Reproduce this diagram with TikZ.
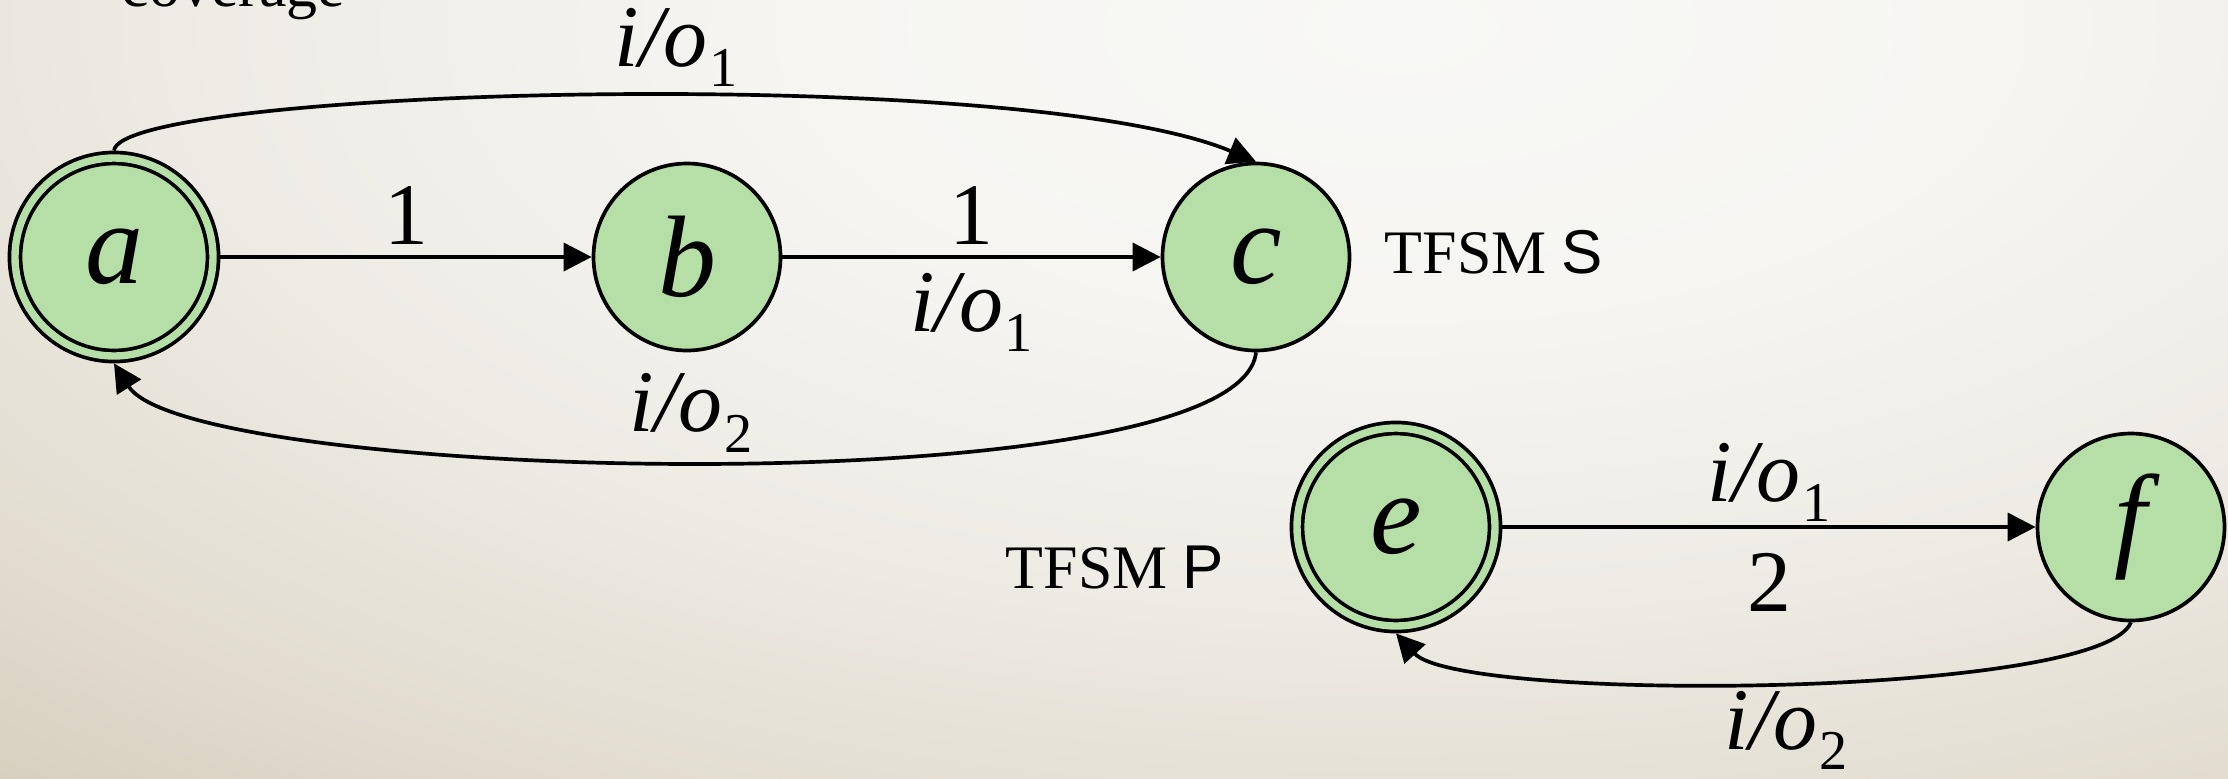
\documentclass[tikz,border=0pt]{standalone}
\usepackage{fontspec}
\setmainfont{Liberation Serif}
\setsansfont{Liberation Sans}
\usetikzlibrary{arrows.meta}
\definecolor{stategreen}{RGB}{182,223,167}
\definecolor{bgin}{RGB}{248,248,246}
\definecolor{bgmida}{RGB}{246,245,242}
\definecolor{bgmidb}{RGB}{238,236,229}
\definecolor{bgmidc}{RGB}{226,220,208}
\definecolor{bgout}{RGB}{208,198,178}
\pgfdeclareradialshading{vignette}{\pgfpointorigin}{color(0bp)=(bgin); color(6.25bp)=(bgmida); color(12.5bp)=(bgmidb); color(18.75bp)=(bgmidc); color(25bp)=(bgout); color(50bp)=(bgout)}
\newcommand{\io}[1]{\textit{i/o}\kern0.5pt\raisebox{-0.23em}{\fontsize{16}{18}\selectfont #1}}
\tikzset{
	fsmstate/.style={circle,draw,fill=stategreen,line width=1.05pt,minimum size=1.87cm,inner sep=0pt,font=\fontsize{33}{36}\selectfont\itshape},
	fsmaccept/.style={fsmstate,minimum size=1.98cm,double=stategreen,double distance=2.1pt,outer sep=2.1pt},
	lbl/.style={font=\fontsize{25}{28}\selectfont,inner sep=2pt},
	txt/.style={font=\fontsize{17.6}{20}\selectfont,inner sep=0pt,anchor=base west}
}
\begin{document}
\begin{tikzpicture}[>={Triangle[length=8pt,width=8pt]},line join=round,line width=1.05pt]
	\useasboundingbox (0,0) rectangle (22.28,7.78);
	\begin{scope}
		\clip (0,0) rectangle (22.28,7.78);
		\shade[shading=vignette] (14,7.5) ellipse (23.7 and 11.2);
	\end{scope}
	% states
	\node[fsmaccept] (a) at (1.14,5.21) {a};
	\node[fsmstate] (b) at (6.87,5.21) {b};
	\node[fsmstate] (c) at (12.56,5.21) {c};
	\node[fsmaccept] (e) at (13.96,2.51) {e};
	\node[fsmstate] (f) at (21.31,2.51) {f};
	\node[txt] (covtxt) at (1.20,7.72) {coverage};
	\node[txt] (nameS) at (13.83,5.05) {TFSM \textsf{S}};
	\node[txt] (nameP) at (10.04,1.90) {TFSM \textsf{P}};
	% TFSM S
	\draw[->] (a) -- node[lbl,above=1pt] (l1) {1} (b);
	\draw[->] (b) -- node[lbl,above=1pt] (l2) {1} node[lbl,below=2pt] (l3) {\io{1}} (c);
	\draw[->] (a.north) .. controls (1.2,6.9) and (10.2,7.15) .. node[lbl,pos=0.55,above] (l4) {\io{1}} (c.north);
	\draw[->] (c.south) .. controls (12.4,2.7) and (1.9,2.95) .. node[lbl,pos=0.51,above] (l5) {\io{2}} (a.south);
	% TFSM P
	\draw[->] (e) -- node[lbl,above=-1pt] (l6) {\io{1}} node[lbl,below=5pt] (l7) {2} (f);
	\draw[->] (f.south) .. controls (21.0,0.8) and (14.6,0.75) .. node[lbl,pos=0.49,below] (l8) {\io{2}} (e.south);
\end{tikzpicture}
\end{document}
